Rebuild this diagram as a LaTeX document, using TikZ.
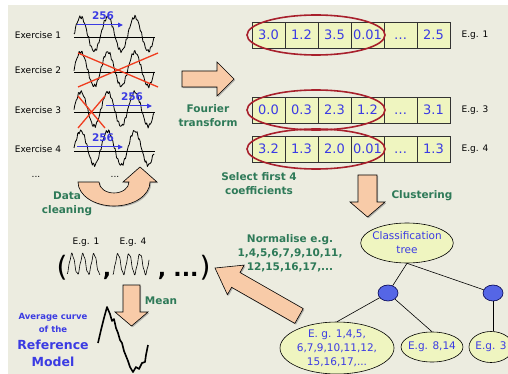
\documentclass[tikz,border=0pt]{standalone}
\usepackage{fontspec}
\setmainfont{DejaVu Sans}
\usetikzlibrary{shapes.geometric,shadows,arrows.meta}

\definecolor{bgbeige}{HTML}{ECECE0}
\definecolor{peach}{HTML}{F8CBA8}
\definecolor{cellfill}{HTML}{EFF5C0}
\definecolor{txtblue}{HTML}{3B3BE3}
\definecolor{txtgreen}{HTML}{2E7A58}
\definecolor{ringred}{HTML}{A8202C}
\definecolor{crossred}{HTML}{F03C1E}
\definecolor{dotblue}{HTML}{5566E6}

\tikzset{
  fatarrow/.style={draw=black, line width=0.6pt, fill=peach,
    drop shadow={shadow xshift=1.2pt, shadow yshift=-1.2pt, opacity=0.55}},
  greenlbl/.style={text=txtgreen, align=center,
    font=\fontsize{10.5}{14}\selectfont\bfseries},
  smalltxt/.style={font=\fontsize{9}{11}\selectfont, inner sep=0pt},
  signal/.style={line width=0.8pt, line join=round},
  cross/.style={crossred, line width=1.3pt},
  scanarrow/.style={draw=txtblue, line width=1pt, -{Triangle[length=5pt,width=4.5pt]}},
  scanlbl/.style={text=txtblue, font=\fontsize{10.5}{12}\selectfont\bfseries, inner sep=0pt},
  cell/.style={draw=black!80, line width=0.8pt, fill=cellfill, text=txtblue,
    minimum width=33pt, minimum height=26pt, inner sep=0pt,
    text height=9.5pt, text depth=0pt, font=\fontsize{13}{15}\selectfont},
  ring/.style={draw=ringred, line width=1.6pt},
  leaf/.style={ellipse, draw=black, line width=0.6pt, fill=cellfill, text=txtblue,
    align=center, font=\fontsize{10.5}{14}\selectfont},
  branch/.style={ellipse, draw=black!70!blue, line width=0.6pt, fill=dotblue,
    minimum width=20pt, minimum height=16pt, inner sep=0pt},
  edge/.style={line width=0.6pt},
  bigp/.style={anchor=base, inner sep=0pt, font=\fontsize{28}{30}\selectfont},
  bigc/.style={anchor=base, inner sep=0pt, font=\fontsize{22}{24}\selectfont\bfseries},
}

\begin{document}
\begin{tikzpicture}[x=1pt,y=-1pt]
  \useasboundingbox (0,0) rectangle (508,374);
  \clip (0,0) rectangle (508,374);
  \fill[white] (0,0) rectangle (508,374);
  \fill[bgbeige] (8,5) rectangle (508,374);

  % exercises and their signals
  \foreach \i/\yb/\ph in {1/37/0, 2/72/50, 3/112/110, 4/151/170}{
    \node[smalltxt] (ex\i) at (38,\yb-2) {Exercise \i};
    \draw[signal] (74,\yb) -- (155,\yb);
    \draw[signal] plot[domain=0:80,samples=110]
      ({74+\x},{\yb-3-17*sin(13.333*\x)+1.3*sin(116.1*\x+\ph)+0.8*sin(163.6*\x+2*\ph)});
  }
  \node[smalltxt] (exmore) at (36,177) {...};
  \node[smalltxt] (sigmore) at (115,177) {...};

  \draw[cross] (78,53) -- (158,87) (78,87) -- (158,53);
  \draw[cross] (78,96) -- (105,128) (78,128) -- (105,96);

  \foreach \n/\xa/\xb/\ya in {1/77/123/25, 3/106/152/106, 4/77/123/147}{
    \draw[scanarrow] (\xa,\ya) -- (\xb,\ya);
    \node[scanlbl] (len\n) at ({(\xa+\xb)/2+3},\ya-9) {256};
  }

  % data cleaning
  \draw[fatarrow] (78,182) arc[start angle=180, end angle=360, x radius=36pt, y radius=24pt]
    -- (157,182) -- (140,167) -- (123,182) -- (129,182)
    arc[start angle=0, end angle=-180, x radius=15pt, y radius=11pt] -- cycle;
  \node[greenlbl] (clean) at (67,204) {Data\\cleaning};

  % fourier transform
  \draw[fatarrow] (182,71) -- (217,71) -- (217,62) -- (234,79) -- (217,96) -- (217,87) -- (182,87) -- cycle;
  \node[greenlbl] (fourier) at (208,116) {Fourier\\transform};

  % coefficient rows
  \foreach \r/\yc/\vals in {1/35/{3.0,1.2,3.5,0.01,\dots,2.5},
                            3/110/{0.0,0.3,2.3,1.2,\dots,3.1},
                            4/149/{3.2,1.3,2.0,0.01,\dots,1.3}}{
    \foreach \v [count=\c] in \vals
      \node[cell] (c\r-\c) at ({252+33*(\c-0.5)},\yc) {\v};
    \draw[ring] (316,\yc) ellipse [x radius=69pt, y radius=20pt];
    \node[smalltxt] (eg\r) at (475,\yc) {E.g. \r};
  }
  \node[greenlbl] (select) at (259,184) {Select first 4\\coefficients};

  % clustering
  \draw[fatarrow] (358,175) -- (377,175) -- (377,202) -- (385,202) -- (367.5,217) -- (350,202) -- (358,202) -- cycle;
  \node[greenlbl] (cluster) at (422,196) {Clustering};

  \node[leaf, inner xsep=-2pt, inner ysep=0pt, minimum height=40pt] (tree) at (407,243) {Classification\\tree};
  \node[branch] (n1) at (388,293) {};
  \node[branch] (n2) at (493,293) {};
  \node[leaf, inner sep=-3pt, minimum width=114pt, minimum height=52pt] (leafa) at (337,348)
    {E. g. 1,4,5,\\6,7,9,10,11,12,\\15,16,17,...};
  \node[leaf, inner xsep=-2pt, inner ysep=0pt, minimum height=30pt] (leafb) at (432,347) {E.g. 8,14};
  \node[leaf, inner xsep=-3pt, inner ysep=0pt, minimum width=44pt, minimum height=31pt] (leafc) at (491,347) {E.g. 3};
  \draw[edge] (tree.south) -- (n1);
  \draw[edge] (tree.south) -- (n2);
  \draw[edge] (n1) -- (leafa.north);
  \draw[edge] (n1) -- (leafb.north);
  \draw[edge] (n2) -- (n2 |- leafc.north);

  % normalise
  \draw[fatarrow] (303.2,308.6) -- (240.0,272.5) -- (244.2,265.1) -- (215,268)
    -- (227.4,294.7) -- (231.6,287.3) -- (294.8,323.4) -- cycle;
  \node[greenlbl] (norm) at (290,253) {Normalise e.g.\\1,4,5,6,7,9,10,11,\\12,15,16,17,...};

  % normalised curves
  \node[smalltxt] (sel1) at (86,242) {E.g. 1};
  \node[smalltxt] (sel4) at (133,242) {E.g. 4};
  \node[bigp] (lp) at (62,276) {(};
  \draw[signal, line width=0.6pt] plot[domain=0:33,samples=70]
    ({67+\x},{264-10*cos(32.73*(\x-5))+1.2*sin(133.3*\x)});
  \node[bigc] (cm1) at (107,276) {,};
  \draw[signal, line width=0.6pt] plot[domain=0:36,samples=70]
    ({113+\x},{264-10*cos(32.73*(\x-5))+1.2*sin(133.3*\x+60)});
  \node[bigc] (cm2) at (162,276) {,};
  \node[bigc] (more) at (186,276) {...};
  \node[bigp] (rp) at (205,276) {)};

  % mean
  \draw[fatarrow] (123,285) -- (140,285) -- (140,312) -- (148,312) -- (131.5,326) -- (115,312) -- (123,312) -- cycle;
  \node[greenlbl] (mean) at (161,301) {Mean};

  \node[text=txtblue, align=center, font=\fontsize{8.5}{13}\selectfont\bfseries] (avg) at (53,323) {Average curve\\of the};
  \node[text=txtblue, align=center, font=\fontsize{12.5}{17}\selectfont\bfseries] (refmodel) at (53,353) {Reference\\Model};
  \draw[line width=1.6pt, line join=round] (98,343) -- (101,330) -- (104,318) -- (107,307) -- (110,314)
    -- (112,321) -- (114,319) -- (116,328) -- (118,333) -- (120,340) -- (122,343) -- (124,351)
    -- (126,356) -- (128,361) -- (130,367) -- (133,372) -- (136,367) -- (139,369) -- (142,363)
    -- (145,362) -- (146,355) -- (148,345);
\end{tikzpicture}
\end{document}
